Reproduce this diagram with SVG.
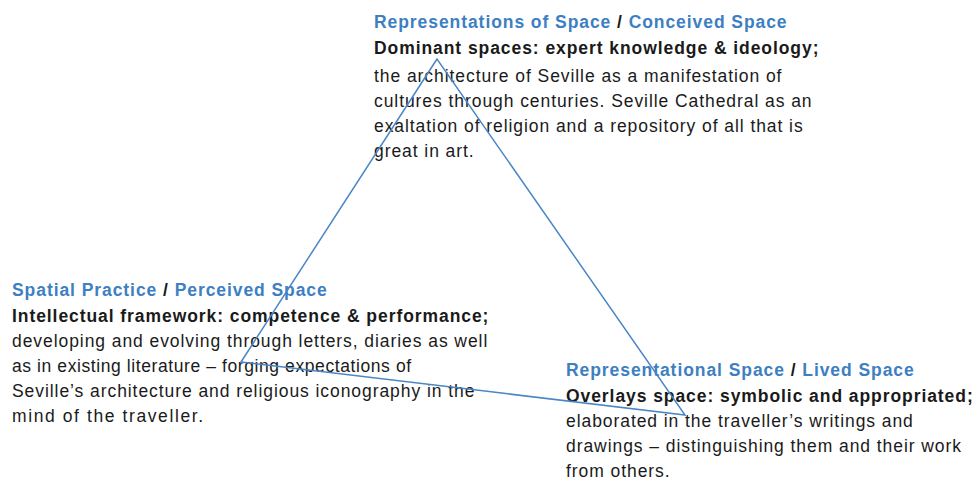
<svg xmlns="http://www.w3.org/2000/svg" width="975" height="492" viewBox="0 0 975 492">
<style>
text{font-family:"Liberation Sans",Arial,sans-serif;font-size:17.5px;letter-spacing:0.93px;fill:#1a1a1a}
.t{font-weight:bold;fill:#3d7fc2}
.s{font-weight:bold;fill:#1a1a1a}
.b{font-weight:bold}
.edge{fill:none;stroke:#4a86c6;stroke-width:1.5;stroke-linejoin:miter}
</style>
<rect width="975" height="492" fill="#ffffff"/>
<g id="node-conceived">
<text x="374" y="28" class="t">Representations of Space<tspan class="s"> / </tspan>Conceived Space</text>
<text x="374" y="54" class="b">Dominant spaces: expert knowledge &amp; ideology;</text>
<text x="374" y="82">the architecture of Seville as a manifestation of</text>
<text x="374" y="107">cultures through centuries. Seville Cathedral as an</text>
<text x="374" y="132">exaltation of religion and a repository of all that is</text>
<text x="374" y="157">great in art.</text>
</g>
<g id="node-perceived">
<text x="12" y="296" class="t">Spatial Practice<tspan class="s"> / </tspan>Perceived Space</text>
<text x="12" y="322" class="b">Intellectual framework: competence &amp; performance;</text>
<text x="12" y="347">developing and evolving through letters, diaries as well</text>
<text x="12" y="372" textLength="400" lengthAdjust="spacing">as in existing literature – forging expectations of</text>
<text x="12" y="397">Seville’s architecture and religious iconography in the</text>
<text x="12" y="422" textLength="192" lengthAdjust="spacing">mind of the traveller.</text>
</g>
<g id="node-lived">
<text x="566" y="376" class="t">Representational Space<tspan class="s"> / </tspan>Lived Space</text>
<text x="566" y="402" class="b">Overlays space: symbolic and appropriated;</text>
<text x="566" y="427">elaborated in the traveller’s writings and</text>
<text x="566" y="452">drawings – distinguishing them and their work</text>
<text x="566" y="477">from others.</text>
</g>
<g id="connectors">
<polygon class="edge" points="437,59 241,362 685,415"/>
</g>
</svg>
